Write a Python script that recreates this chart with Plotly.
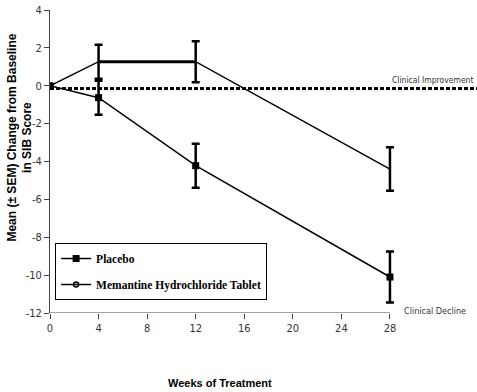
import plotly.graph_objects as go

weeks = [0, 4, 12, 28]
placebo = [0.0, -0.63, -4.22, -10.1]
placebo_sem = [0.0, 0.9, 1.16, 1.35]
memantine = [0.0, 1.27, 1.27, -4.4]
memantine_sem = [0.0, 0.9, 1.08, 1.15]
x_ticks = [0, 4, 8, 12, 16, 20, 24, 28]
y_ticks = [4, 2, 0, -2, -4, -6, -8, -10, -12]
ref_level = -0.15

narrow = "DejaVu Sans Condensed, Liberation Sans Narrow, Arial Narrow, sans-serif"
serif = "Liberation Serif, Times New Roman, serif"
sans = "Liberation Sans, Arial, sans-serif"

fig = go.Figure()

fig.add_trace(go.Scatter(
    x=weeks[1:3], y=memantine[1:3], mode="lines",
    line=dict(color="black", width=3), showlegend=False, hoverinfo="skip"))

fig.add_trace(go.Scatter(
    x=weeks, y=memantine, mode="lines", showlegend=False,
    line=dict(color="black", width=1.5),
    error_y=dict(type="data", array=memantine_sem, visible=True,
                 color="black", thickness=2.5, width=4)))

fig.add_trace(go.Scatter(
    x=weeks, y=placebo, mode="lines+markers",
    name="<b>Placebo</b>", legendgroup="a", legendrank=1,
    line=dict(color="black", width=1.5),
    marker=dict(symbol="square", size=7, color="black"),
    error_y=dict(type="data", array=placebo_sem, visible=True,
                 color="black", thickness=2.5, width=4)))

fig.add_trace(go.Scatter(
    x=[None], y=[None], mode="lines+markers",
    name="<b>Memantine Hydrochloride Tablet</b>", legendgroup="b", legendrank=2,
    line=dict(color="black", width=1.5),
    marker=dict(symbol="circle-open", size=5, color="black", line=dict(width=1.5))))

fig.add_shape(type="line", xref="x", yref="y",
              x0=0, x1=36, y0=ref_level, y1=ref_level,
              line=dict(color="black", width=3, dash="4px,2px"))

fig.add_shape(type="line", xref="x", yref="y",
              x0=x_ticks[0], x1=x_ticks[-1], y0=y_ticks[-1], y1=y_ticks[-1],
              line=dict(color="#444", width=1))

fig.add_annotation(x=x_ticks[-1], y=ref_level, xref="x", yref="y",
                   text="Clinical Improvement", showarrow=False,
                   xanchor="left", yanchor="bottom", xshift=0, yshift=2,
                   font=dict(family=narrow, size=8.5, color="#333"))
fig.add_annotation(x=x_ticks[-1], y=y_ticks[-1], xref="x", yref="y",
                   text="Clinical Decline", showarrow=False,
                   xanchor="left", yanchor="middle", xshift=12, yshift=2,
                   font=dict(family=narrow, size=9, color="#333"))
fig.add_annotation(x=14, y=-0.231, xref="x", yref="paper",
                   text="<b>Weeks of Treatment</b>", showarrow=False,
                   xanchor="center", yanchor="middle",
                   font=dict(family=sans, size=11, color="black"))
fig.add_annotation(x=-0.071, y=0.578, xref="paper", yref="paper",
                   text="<b>Mean (± SEM) Change from Baseline<br>in SIB Score</b>",
                   showarrow=False, textangle=-90,
                   xanchor="center", yanchor="middle",
                   font=dict(family=sans, size=12, color="black"))

fig.update_layout(
    width=477, height=392,
    margin=dict(l=50, r=0, t=10, b=79),
    paper_bgcolor="white", plot_bgcolor="white",
    showlegend=True,
    legend=dict(x=0.012, y=0.231, xanchor="left", yanchor="top",
                bordercolor="black", borderwidth=1, bgcolor="white",
                font=dict(family=serif, size=11.5, color="black"),
                traceorder="grouped", itemwidth=30,
                tracegroupgap=7),
)
fig.update_xaxes(range=[0, 35.17], tickvals=x_ticks, ticktext=[str(v) for v in x_ticks],
                 showline=False, showgrid=False, zeroline=False, automargin=False,
                 ticks="outside", ticklen=5, tickcolor="#444",
                 tickfont=dict(family=narrow, size=11, color="#333"))
fig.update_yaxes(range=[y_ticks[-1], y_ticks[0]], tickvals=y_ticks,
                 ticktext=[str(v) for v in y_ticks],
                 showline=True, linecolor="#444", linewidth=1, automargin=False,
                 showgrid=False, zeroline=False,
                 ticks="outside", ticklen=5, tickcolor="#444",
                 tickfont=dict(family=narrow, size=11, color="#333"))

fig.write_html("out.html", config={"displayModeBar": False},
               post_script="document.body.style.margin='0';document.body.style.overflow='hidden';")
